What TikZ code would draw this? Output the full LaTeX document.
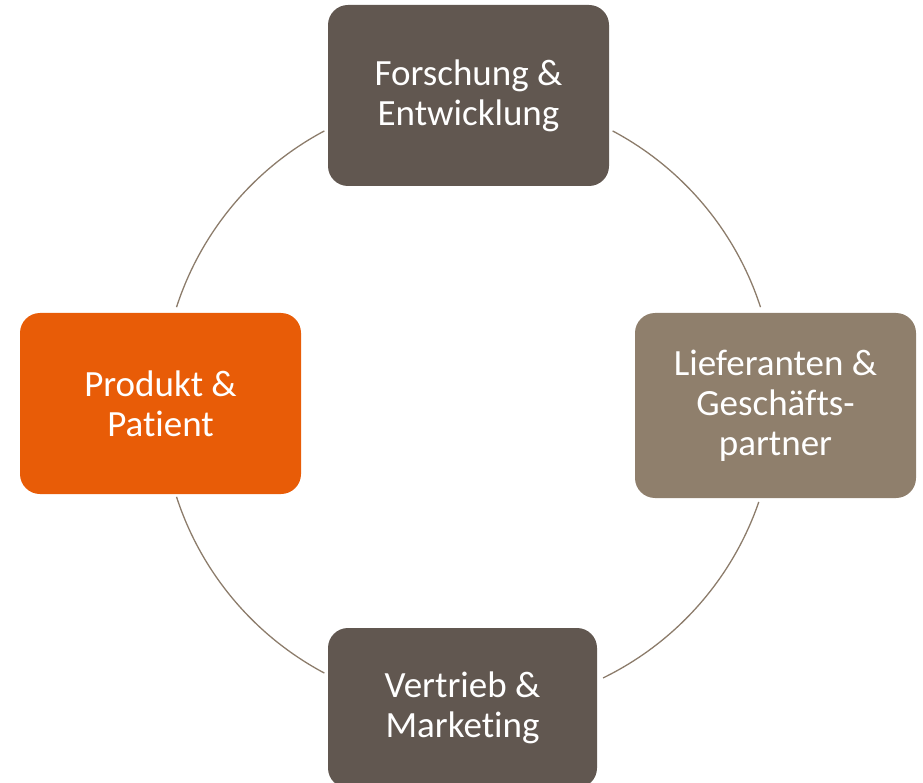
\documentclass[tikz,border=0pt]{standalone}
\usepackage{fontspec}
\setmainfont{Carlito}[RawFeature={-liga,-clig,-dlig,-calt}]
\definecolor{dunkel}{HTML}{615750}
\definecolor{hell}{HTML}{8F7F6C}
\definecolor{kreisorange}{HTML}{E85C07}
\definecolor{ringfarbe}{HTML}{8C7C6B}
\tikzset{
  box/.style={rounded corners=20pt, text=white, align=center, inner sep=0pt,
    minimum width=281pt, minimum height=181pt,
    font=\fontsize{37}{40}\selectfont},
  ring/.style={draw=ringfarbe, line width=1.3pt}
}
\begin{document}
\begin{tikzpicture}[x=1pt,y=-1pt]
    \useasboundingbox (0,0) rectangle (923,783);
    %\draw (0,0) grid[step=100] (923,783);
    \node[box,fill=dunkel] (fue) at (468.5,95.5) {Forschung \&\\Entwicklung};
    \node[box,fill=hell,minimum height=185pt] (lief) at (775.5,405.5) {Lieferanten \&\\Geschäfts-\\partner};
    \node[box,fill=kreisorange] (prod) at (160.5,403.5) {Produkt \&\\Patient};
    \node[box,fill=dunkel,minimum width=269pt,minimum height=160pt] (vm) at (462.5,708) {Vertrieb \&\\Marketing};
    % Kreisboegen zwischen den Kaesten
    \coordinate (mitte) at (468.5,402);
    \foreach \von/\bis in {118/162, 62/18, -19/-64, -118/-162}
        \draw[ring] (mitte) ++(\von:307pt) arc[start angle=\von, end angle=\bis, radius=307pt];
\end{tikzpicture}
\end{document}
